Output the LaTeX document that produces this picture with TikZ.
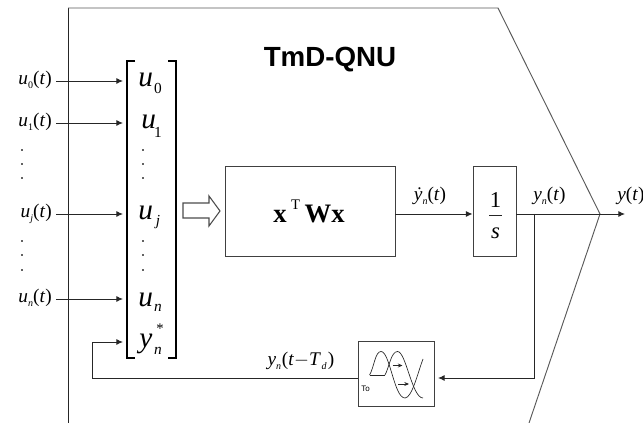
\documentclass[tikz,border=0pt]{standalone}
\usepackage{fontspec}
\setmainfont{Liberation Serif}
\setsansfont{Liberation Sans}
\usetikzlibrary{arrows.meta}
\newcommand{\sig}[2]{\textit{#1}\raisebox{-2.5pt}{\fontsize{7.5}{8}\selectfont #2}}
\tikzset{
  wire/.style={line width=0.7pt, draw=black!85},
  feed/.style={wire, -{Latex[length=5pt,width=4.5pt]}},
  blockbox/.style={draw=black!75, line width=0.7pt, inner sep=0pt},
  siglabel/.style={inner sep=0pt, text height=10pt, text depth=4pt, font=\fontsize{14.5}{16}\selectfont},
  entry/.style={inner sep=0pt, anchor=west, text height=13pt, text depth=5pt, font=\fontsize{22}{24}\selectfont},
  entsub/.style={inner sep=0pt, font=\fontsize{11.5}{13}\selectfont},
}
\begin{document}
\begin{tikzpicture}[x=0.75pt, y=-0.75pt]
\def\xbrl{127};
\def\xbrr{176};
\def\xin{123};
\def\xbranch{534};
\def\xtip{600};
\def\xsub{158};

\def\yzero{81};
\def\yone{123};
\def\yj{214};
\def\yn{299};
\def\ystar{342};
\def\ybrtop{61};
\def\ybrbot{358};
\def\ydelay{378};

\useasboundingbox (0,0) rectangle (643,423);

% outline of the unit
\draw [wire] (68,8) -- (68,423);
\draw [wire, draw=black!65] (68,8) -- (498,8) -- (\xtip,\yj) -- (529,423);
\node [font=\sffamily\bfseries\fontsize{20.8}{22}\selectfont, inner sep=0pt] (title) at (330,60) {TmD-QNU};

% input vector
\draw [line width=1.1pt] (135,\ybrtop) -- (\xbrl,\ybrtop) -- (\xbrl,\ybrbot) -- (135,\ybrbot);
\draw [line width=1.1pt] (168,\ybrtop) -- (\xbrr,\ybrtop) -- (\xbrr,\ybrbot) -- (168,\ybrbot);

\node [entry] (ezero) at (138,\yzero) {\textit{u}};
\node [entry] (eone) at (141,\yone) {\textit{u}};
\node [entry] (ej) at (138,\yj) {\textit{u}};
\node [entry] (en) at (138,301) {\textit{u}};
\node [entry] (estar) at (139,\ystar) {\textit{y}};
\node [entsub] (szero) at (\xsub,88) {0};
\node [entsub] (sone) at (\xsub,132) {1};
\node [entsub] (sj) at (\xsub,222) {\textit{j}};
\node [entsub] (sn) at (\xsub,308) {\textit{n}};
\node [entsub] (sstar) at (\xsub,351) {\textit{n}};
\node [inner sep=0pt, font=\fontsize{11}{11}\selectfont] (astx) at (160,329) {*};

\node [siglabel, anchor=east] (lzero) at (52,\yzero) {\sig{u}{0}(\textit{t})};
\node [siglabel, anchor=east] (lone) at (52,\yone) {\sig{u}{1}(\textit{t})};
\node [siglabel, anchor=east] (lj) at (52,\yj) {\sig{u}{\textit{j}}(\textit{t})};
\node [siglabel, anchor=east] (ln) at (52,\yn) {\sig{u}{\textit{n}}(\textit{t})};

\foreach \ya in {150,164,178,241,255,270} {
  \filldraw[black] (22,\ya) circle (0.45pt);
  \filldraw[black] (143,\ya) circle (0.45pt);
}

\coordinate (azero) at (\xin,\yzero);
\coordinate (aone) at (\xin,\yone);
\coordinate (aj) at (\xin,\yj);
\coordinate (an) at (\xin,\yn);
\coordinate (astar) at (\xin,\ystar);

\draw [feed] (lzero.east) ++(4,0) -- (azero);
\draw [feed] (lone.east) ++(4,0) -- (aone);
\draw [feed] (lj.east) ++(4,0) -- (aj);
\draw [feed] (ln.east) ++(4,0) -- (an);

\draw [wire, draw=black!70, line width=0.8pt] (183,203) -- (209,203) -- (209,196) -- (220,211) -- (209,226) -- (209,218) -- (183,218) -- cycle;

% blocks
\node [blockbox, minimum width=127.5pt, minimum height=67.5pt] (quad) at (310,211) {};
\node [font=\bfseries\fontsize{20}{22}\selectfont, inner sep=0pt, anchor=base] (quadtxt) at (309,223) {x\,\raisebox{10pt}{\normalfont\fontsize{11}{11}\selectfont T}\,Wx};
\node [blockbox, minimum width=32.25pt, minimum height=67.5pt] (integ) at (494.5,211) {};
\node [font=\fontsize{17}{20}\selectfont, inner sep=0pt] (one) at (495.5,200) {1};
\node [font=\itshape\fontsize{17}{20}\selectfont, inner sep=0pt] (ess) at (495.5,233) {s};
\draw [wire] (489,215) -- (502,215);
\node [blockbox, minimum width=57pt, minimum height=48.75pt] (delay) at (396,373.5) {};
\node [font=\sffamily\fontsize{6}{7}\selectfont, inner sep=0pt] (delaytxt) at (365.5,389) {To};

\draw [wire, line width=0.5pt] (369.5,375) -- (385,375);
\draw [wire, line width=0.5pt] (369.5,375) .. controls (374,368) and (375,351.5) .. (381,351.5) .. controls (390,351.5) and (394,398) .. (405,398) .. controls (412,398) and (418,372) .. (423,359);
\draw [wire, line width=0.5pt] (385,375) .. controls (389,368) and (391,351.5) .. (397.5,351.5) .. controls (406,351.5) and (412,398) .. (423,398);

\draw [feed, -{Stealth[length=3.5pt,width=3pt]}] (392.5,365.5) -- (402.5,365.5);
\draw [feed, -{Stealth[length=3.5pt,width=3pt]}] (398,384) -- (409,384);

% signals
\node [siglabel] (ldot) at (430,197) {\sig{\.y}{\textit{n}}(\textit{t})};
\node [siglabel] (lout) at (549.5,197) {\sig{y}{\textit{n}}(\textit{t})};
\node [siglabel, anchor=west] (ly) at (617,197) {\textit{y}(\textit{t})};
\node [siglabel] (ldel) at (301,362) {\sig{y}{\textit{n}}\hspace{0.5pt}(\textit{t}$-$\textit{T}\hspace{0.5pt}\raisebox{-2.5pt}{\fontsize{7.5}{8}\selectfont\textit{d}}\hspace{1pt})};

\coordinate (bra) at (\xbranch,\yj);
\coordinate (sum) at (\xtip,\yj);
\coordinate (yend) at (625,\yj);
\coordinate (corner) at (\xbranch,\ydelay);
\coordinate (dtip) at (438,\ydelay);
\coordinate (fba) at (92,\ydelay);
\coordinate (fbb) at (92,\ystar);

\draw [feed] (quad.east |- bra) -- (integ.west |- bra);
\draw [wire] (integ.east |- bra) -- (sum);
\draw [feed] (sum) -- (yend);
\draw [feed] (bra) -- (corner) -- (dtip);
\draw [feed] (delay.west |- corner) -- (fba) -- (fbb) -- (astar);

\end{tikzpicture}
\end{document}
